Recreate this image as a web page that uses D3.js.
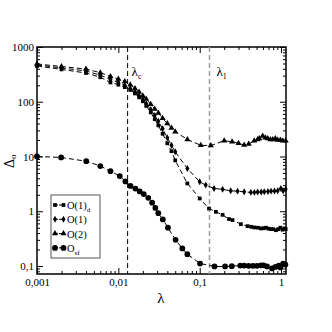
<!DOCTYPE html>
<html>
<head>
<meta charset="utf-8">
<script src="https://cdnjs.cloudflare.com/ajax/libs/d3/7.8.5/d3.min.js"></script>
<style>
  body { margin: 0; background: white; }
  svg { font-family: "Liberation Serif", "DejaVu Serif", serif; }
</style>
</head>
<body>
<div id="chart"></div>
<script>
// O(1)_d  (squares)
var sqLam = [0.001,0.002,0.004,0.006,0.008,0.010,0.012,0.014,0.016,0.018,0.020,0.022,0.025,0.028,0.031,0.035,0.040,0.045,0.050,0.0705,0.100,0.130,0.158,0.191,0.229,0.253,0.321,0.388,0.43,0.468,0.52,0.567,0.61,0.653,0.70,0.753,0.80,0.867,0.92,0.98,1.04,1.10,1.14];
var sqVal = [450,390,335,280,225,205,185,165,142,120,102,84,64,48,37,26,17.4,12.5,8.5,3.22,1.71,1.12,0.975,0.86,0.72,0.69,0.58,0.534,0.52,0.506,0.50,0.485,0.49,0.50,0.48,0.471,0.47,0.451,0.47,0.50,0.46,0.485,0.471];

// O(1)  (diamonds)
var diLam = [0.001,0.002,0.004,0.006,0.008,0.010,0.012,0.014,0.016,0.018,0.020,0.022,0.025,0.028,0.031,0.035,0.040,0.045,0.050,0.0705,0.100,0.1186,0.150,0.191,0.24,0.292,0.352,0.426,0.47,0.515,0.57,0.622,0.69,0.753,0.83,0.91,0.995,1.06,1.14];
var diVal = [470,415,365,305,255,225,200,175,150,128,110,92,72,56,44,32,22,16,12.2,6.05,3.45,3.0,2.61,2.51,2.36,2.33,2.26,2.21,2.21,2.24,2.24,2.26,2.30,2.33,2.34,2.36,2.61,2.36,2.51];

// O(2)  (triangles)
var trLam = [0.001,0.002,0.004,0.006,0.008,0.010,0.012,0.014,0.016,0.018,0.020,0.022,0.025,0.028,0.031,0.035,0.040,0.045,0.050,0.0705,0.103,0.137,0.20,0.25,0.30,0.352,0.40,0.468,0.515,0.54,0.594,0.64,0.685,0.738,0.79,0.851,0.91,0.98,1.05,1.14];
var trVal = [490,440,395,340,290,260,235,205,175,150,128,112,90,74,62,50,40,33,28.3,20.5,16.0,15.8,19.4,18.6,17.4,16.2,16.9,19.4,20.5,21.4,23.6,22.0,21.4,20.5,20.5,21.4,19.95,19.95,19.4,19.4];

// O_sf  (circles)
var ciLam = [0.001,0.00198,0.00403,0.006,0.008,0.0104,0.0122,0.0141,0.0162,0.0183,0.0205,0.0233,0.026,0.0285,0.031,0.0352,0.0407,0.0505,0.0611,0.0705,0.101,0.152,0.205,0.248,0.315,0.352,0.399,0.451,0.505,0.567,0.611,0.672,0.774,0.851,0.937,0.98,1.06,1.13];
var ciVal = [10,9.6,8.2,6.7,5.4,4.4,3.5,2.9,2.6,2.3,2.06,1.76,1.43,1.15,0.92,0.71,0.50,0.30,0.209,0.164,0.111,0.098,0.098,0.099,0.102,0.102,0.101,0.101,0.101,0.103,0.103,0.098,0.090,0.096,0.102,0.094,0.111,0.106];

var xTicks = [0.001, 0.01, 0.1, 1];
var xTickLabels = ['0,001', '0,01', '0,1', '1'];
var yTicks = [0.1, 1, 10, 100, 1000];
var yTickLabels = ['0,1', '1', '10', '100', '1000'];

var lambdaC = 0.0130, lambda1 = 0.132;

var W = 332, H = 332;
var pL = 37, pR = 286, pT = 47, pB = 274;

var svg = d3.select('#chart').append('svg')
    .attr('width', W)
    .attr('height', H);

var x = d3.scaleLog().domain([0.001, 1.15]).range([pL, pR]);
var y = d3.scaleLog().domain([0.0714, 1000]).range([pB, pT]);

function minors(dom) {
  var out = [];
  for (var e = -4; e <= 3; e++) {
    for (var m = 2; m <= 9; m++) {
      var v = m * Math.pow(10, e);
      if (v > dom[0] && v < dom[1]) out.push(v);
    }
  }
  return out;
}
var xMin = minors(x.domain()), yMin = minors(y.domain());

function fmt(ticks, labels) {
  return function(d) { return labels[ticks.indexOf(d)]; };
}

// bottom
svg.append('g').attr('class', 'ax')
    .attr('transform', 'translate(0,' + pB + ')')
    .call(d3.axisBottom(x).tickValues(xTicks).tickFormat(fmt(xTicks, xTickLabels))
      .tickSizeInner(-6).tickSizeOuter(0).tickPadding(4));
svg.append('g').attr('class', 'ax')
    .attr('transform', 'translate(0,' + pB + ')')
    .call(d3.axisBottom(x).tickValues(xMin).tickFormat('').tickSizeInner(-3).tickSizeOuter(0));
// top
svg.append('g').attr('class', 'ax')
    .attr('transform', 'translate(0,' + pT + ')')
    .call(d3.axisTop(x).tickValues(xTicks).tickFormat('').tickSizeInner(-6).tickSizeOuter(0));
svg.append('g').attr('class', 'ax')
    .attr('transform', 'translate(0,' + pT + ')')
    .call(d3.axisTop(x).tickValues(xMin).tickFormat('').tickSizeInner(-3).tickSizeOuter(0));
// left
svg.append('g').attr('class', 'ax')
    .attr('transform', 'translate(' + pL + ',0)')
    .call(d3.axisLeft(y).tickValues(yTicks).tickFormat(fmt(yTicks, yTickLabels))
      .tickSizeInner(-6).tickSizeOuter(0).tickPadding(3));
svg.append('g').attr('class', 'ax')
    .attr('transform', 'translate(' + pL + ',0)')
    .call(d3.axisLeft(y).tickValues(yMin).tickFormat('').tickSizeInner(-3).tickSizeOuter(0));
// right
svg.append('g').attr('class', 'ax')
    .attr('transform', 'translate(' + pR + ',0)')
    .call(d3.axisRight(y).tickValues(yTicks).tickFormat('').tickSizeInner(-6).tickSizeOuter(0));
svg.append('g').attr('class', 'ax')
    .attr('transform', 'translate(' + pR + ',0)')
    .call(d3.axisRight(y).tickValues(yMin).tickFormat('').tickSizeInner(-3).tickSizeOuter(0));

svg.selectAll('.ax .domain').remove();
svg.selectAll('.ax line').attr('stroke', '#000').attr('stroke-width', 1);
svg.selectAll('.ax text')
    .style('font-family', '"Liberation Serif", serif')
    .style('font-size', '11px')
    .attr('fill', '#000');

// frame
svg.append('rect')
    .attr('x', pL).attr('y', pT)
    .attr('width', pR - pL).attr('height', pB - pT)
    .attr('fill', 'none').attr('stroke', '#000').attr('stroke-width', 1.5);

// vertical marks
svg.append('line')
    .attr('x1', x(lambdaC)).attr('x2', x(lambdaC))
    .attr('y1', pT).attr('y2', pB)
    .attr('stroke', '#000').attr('stroke-width', 1).attr('stroke-dasharray', '5,3');
svg.append('line')
    .attr('x1', x(lambda1)).attr('x2', x(lambda1))
    .attr('y1', pT).attr('y2', pB)
    .attr('stroke', '#999').attr('stroke-width', 1.5).attr('stroke-dasharray', '5,3');

var lc = svg.append('text').attr('x', x(lambdaC) + 4).attr('y', 76).attr('fill', '#000').style('font-size', '13px');
lc.append('tspan').text('λ');
lc.append('tspan').attr('dy', 3).style('font-size', '8px').text('c');
var l1 = svg.append('text').attr('x', x(lambda1) + 7).attr('y', 76).attr('fill', '#000').style('font-size', '13px');
l1.append('tspan').text('λ');
l1.append('tspan').attr('dy', 3).style('font-size', '8px').text('1');

// series
var series = [
  { lam: sqLam, val: sqVal, sym: d3.symbolSquare, size: 14 },
  { lam: diLam, val: diVal, sym: d3.symbolDiamond, size: 14 },
  { lam: trLam, val: trVal, sym: d3.symbolTriangle, size: 16 },
  { lam: ciLam, val: ciVal, sym: d3.symbolCircle, size: 26 }
];

var line = d3.line()
    .x(function(d) { return x(d[0]); })
    .y(function(d) { return y(d[1]); });

series.forEach(function(s) {
  var pts = s.lam.map(function(l, i) { return [l, s.val[i]]; });
  svg.append('path')
      .datum(pts)
      .attr('d', line)
      .attr('fill', 'none')
      .attr('stroke', '#000')
      .attr('stroke-width', 1)
      .attr('stroke-dasharray', '5,3');
  svg.append('g').selectAll('path')
      .data(pts)
      .enter().append('path')
      .attr('transform', function(d) { return 'translate(' + x(d[0]) + ',' + y(d[1]) + ')'; })
      .attr('d', d3.symbol().type(s.sym).size(s.size))
      .attr('fill', '#000');
});

// legend
var leg = svg.append('g');
leg.append('rect')
    .attr('x', 51).attr('y', 195).attr('width', 49).attr('height', 63)
    .attr('fill', 'white').attr('stroke', '#555').attr('stroke-width', 1);
var legNames = [['O(1)', 'd'], ['O(1)', ''], ['O(2)', ''], ['O', 'sf']];
series.forEach(function(s, i) {
  var ly = 205 + i * 14.3;
  leg.append('line')
      .attr('x1', 55).attr('x2', 63.5).attr('y1', ly).attr('y2', ly)
      .attr('stroke', '#000').attr('stroke-width', 1).attr('stroke-dasharray', '3,1');
  [55, 63.5].forEach(function(px) {
    leg.append('path')
        .attr('transform', 'translate(' + px + ',' + ly + ')')
        .attr('d', d3.symbol().type(s.sym).size(s.size));
  });
  var t = leg.append('text').attr('x', 67).attr('y', ly + 4).style('font-size', '10.5px');
  t.append('tspan').text(legNames[i][0]);
  if (legNames[i][1]) t.append('tspan').attr('dy', 3).style('font-size', '7px').text(legNames[i][1]);
});

// axis titles
svg.append('text')
    .attr('x', 161).attr('y', 303)
    .attr('text-anchor', 'middle')
    .style('font-size', '15px')
    .text('λ');
var yl = svg.append('text')
    .attr('transform', 'translate(14,168) rotate(-90)')
    .style('font-size', '14px');
yl.append('tspan').text('Δ');
yl.append('tspan').attr('dy', 2).style('font-size', '9px').text('o');
</script>
</body>
</html>
